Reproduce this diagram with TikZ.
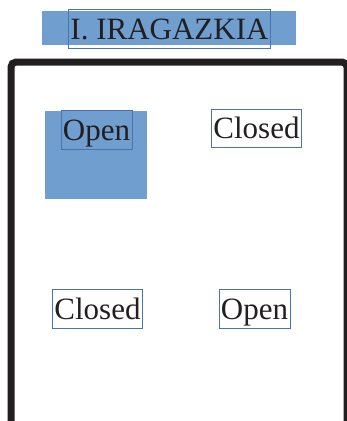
\documentclass[tikz,border=0pt]{standalone}
\usepackage{fontspec}
\setmainfont{Liberation Serif}
\definecolor{boxblue}{RGB}{112,158,207}
\definecolor{edgeblue}{RGB}{70,116,180}
\definecolor{ink}{RGB}{35,31,32}
\tikzset{
  lbl/.style={draw=edgeblue, line width=0.8pt, text=ink, inner xsep=2pt, inner ysep=2pt,
    text height=27.6pt, text depth=6.7pt, font=\fontsize{31}{37}\selectfont},
  bluefill/.style={fill=boxblue},
  frame/.style={draw=ink, line width=7pt, rounded corners=5pt}
}
\begin{document}
\begin{tikzpicture}[x=1pt,y=-1pt]
\useasboundingbox (0,0) rectangle (347,421);
\clip (0,0) rectangle (347,421);
% frame
\draw[frame] (11,440) -- (11,62) -- (347,62) -- (347,440);
% blue fills
\fill[bluefill] (42,11) rectangle (296,45);
\fill[bluefill] (45,111) rectangle (147,199);
% labels
\node[lbl] (title) at (169.5,29) {I. IRAGAZKIA};
\node[lbl] (opentl) at (96.5,130) {Open};
\node[lbl] (closedtr) at (256.5,128.5) {Closed};
\node[lbl] (closedbl) at (97.5,309) {Closed};
\node[lbl] (openbr) at (254.5,309) {Open};
\end{tikzpicture}
\end{document}
